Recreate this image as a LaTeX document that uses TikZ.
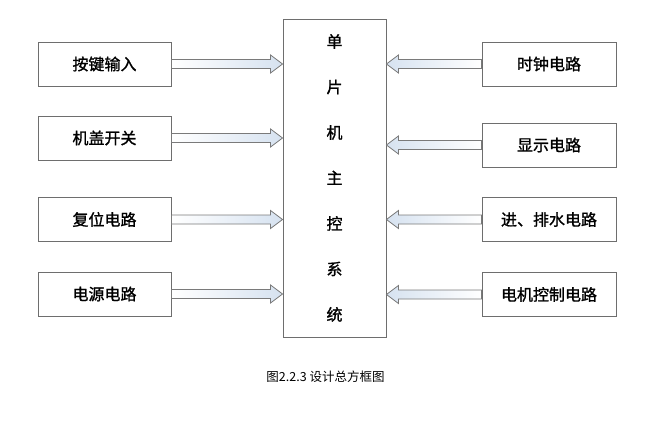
\documentclass[tikz,border=0pt]{standalone}
\usepackage{fontspec}
\newfontfamily\cjk{Noto Sans CJK SC}
\newfontfamily\cjkb[FakeBold=1.2]{Noto Sans CJK SC}
\usetikzlibrary{calc}
\definecolor{boxline}{HTML}{6E6E6E}
\definecolor{arrline}{HTML}{7A7A7A}
\definecolor{arrblue}{HTML}{D6E2F0}
\tikzset{
  unitbox/.style={draw=boxline, line width=0.9pt, minimum width=133, minimum height=44, inner sep=0pt, font=\cjkb\fontsize{16}{18}\selectfont},
  fatR/.style={draw=arrline, line width=0.8pt, left color=white, right color=arrblue},
  fatL/.style={draw=arrline, line width=0.8pt, left color=arrblue, right color=white},
}
\newcommand\arrowR[2]{% from node #1 east to node #2 west (pointing right)
  \draw[fatR] let \p1=(#1.east), \p2=(#2.west|-#1.east) in
    (\x1,\y1+4.5pt) -- (\x2-12pt,\y1+4.5pt) -- (\x2-12pt,\y1+9pt) -- (\x2,\y1)
    -- (\x2-12pt,\y1-9pt) -- (\x2-12pt,\y1-4.5pt) -- (\x1,\y1-4.5pt) -- cycle;}
\newcommand\arrowL[2]{% from node #1 west to node #2 east (pointing left)
  \draw[fatL] let \p1=(#1.west), \p2=(#2.east|-#1.west) in
    (\x1,\y1+4.5pt) -- (\x2+12pt,\y1+4.5pt) -- (\x2+12pt,\y1+9pt) -- (\x2,\y1)
    -- (\x2+12pt,\y1-9pt) -- (\x2+12pt,\y1-4.5pt) -- (\x1,\y1-4.5pt) -- cycle;}
\begin{document}
\begin{tikzpicture}[x=1pt,y=-1pt]
\useasboundingbox[fill=white] (0,0) rectangle (670,423);
\node[draw=boxline, line width=0.9pt, minimum width=103, minimum height=318, inner sep=0pt, align=center,
      font=\cjkb\fontsize{16}{45.5}\selectfont] (main) at (334.5,178) {单\\片\\机\\主\\控\\系\\统};
\node[unitbox] (l1) at (104.5,64) {按键输入};
\node[unitbox] (l2) at (104.5,138) {机盖开关};
\node[unitbox] (l3) at (104.5,219.5) {复位电路};
\node[unitbox] (l4) at (104.5,294) {电源电路};
\node[unitbox, minimum width=134] (r1) at (549,64) {时钟电路};
\node[unitbox, minimum width=134] (r2) at (549,145) {显示电路};
\node[unitbox, minimum width=134] (r3) at (549,219.5) {进、排水电路};
\node[unitbox, minimum width=134] (r4) at (549,294.5) {电机控制电路};
\arrowR{l1}{main}
\arrowR{l2}{main}
\arrowR{l3}{main}
\arrowR{l4}{main}
\arrowL{r1}{main}
\arrowL{r2}{main}
\arrowL{r3}{main}
\arrowL{r4}{main}
\node[font=\cjk\fontsize{12.5}{14}\selectfont] (cap) at (325.5,377) {图2.2.3 设计总方框图};
\end{tikzpicture}
\end{document}
